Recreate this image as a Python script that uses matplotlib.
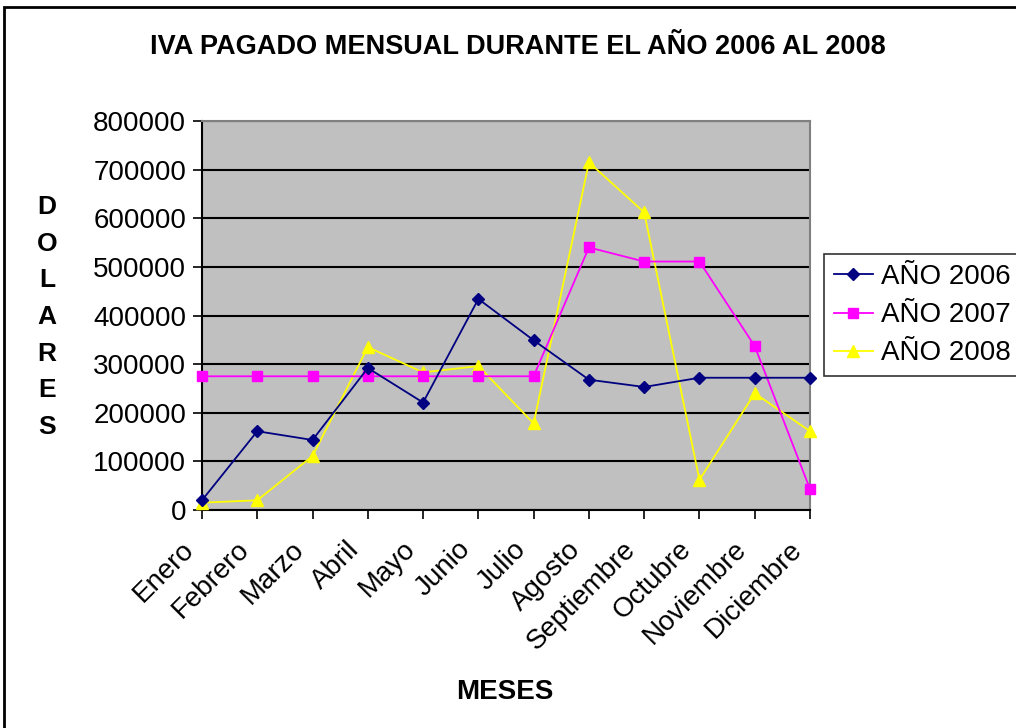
import numpy as np
import matplotlib.pyplot as plt
from matplotlib.patches import Rectangle
from matplotlib.transforms import ScaledTranslation

plt.rcParams['font.family'] = ['Liberation Sans', 'DejaVu Sans']

# datos
meses = ['Enero', 'Febrero', 'Marzo', 'Abril', 'Mayo', 'Junio', 'Julio',
         'Agosto', 'Septiembre', 'Octubre', 'Noviembre', 'Diciembre']
iva_2006 = [20000, 162000, 144000, 292000, 221000, 434000, 349000,
            268000, 253000, 272000, 272000, 272000]
iva_2007 = [275000, 275000, 275000, 275000, 275000, 275000, 275000,
            540000, 511000, 511000, 337000, 43000]
iva_2008 = [15000, 20000, 111000, 335000, 283000, 296000, 178000,
            715000, 612000, 62000, 240000, 162000]

fig = plt.figure(figsize=(10.16, 7.28), dpi=100)
W, H = 1016, 728

# marco exterior del grafico
fig.patches.append(Rectangle((4 / W, -0.02), 1.05, 1 - 7 / H + 0.02,
                             transform=fig.transFigure, fill=False,
                             edgecolor='black', linewidth=2))

ax = fig.add_axes([202 / W, 1 - 510 / H, (810 - 202) / W, (510 - 121) / H])
ax.set_facecolor('#C0C0C0')

x = np.arange(len(meses))
ax.plot(x, iva_2006, color='#000080', marker='D', markersize=6, linewidth=1.3,
        label='AÑO 2006', clip_on=False, zorder=5)
ax.plot(x, iva_2007, color='#FF00FF', marker='s', markersize=7, linewidth=1.3,
        label='AÑO 2007', clip_on=False, zorder=4)
ax.plot(x, iva_2008, color='#FFFF00', marker='^', markersize=8, linewidth=1.3,
        label='AÑO 2008', clip_on=False, zorder=3)

ax.set_xlim(0, 11)
ax.set_ylim(0, 800000)
ax.set_yticks(np.arange(0, 800001, 100000))
ax.set_yticklabels([str(v) for v in range(0, 800001, 100000)], fontsize=20)
ax.yaxis.grid(True, color='black', linewidth=1.5)
ax.set_axisbelow(True)

ax.set_xticks(x)
ax.set_xticklabels(meses, fontsize=20, rotation=45, ha='right', va='center',
                   rotation_mode='anchor')
ax.tick_params(axis='both', direction='out', length=6.5, width=1.2, color='black')
ax.tick_params(axis='y', pad=5)
ax.tick_params(axis='x', pad=19)
desplaza = ScaledTranslation(-0.12, 0, fig.dpi_scale_trans)
for lab in ax.get_xticklabels():
    lab.set_transform(lab.get_transform() + desplaza)

for s in ['left', 'bottom']:
    ax.spines[s].set_color('black')
    ax.spines[s].set_linewidth(1.5)
for s in ['top', 'right']:
    ax.spines[s].set_color('#808080')
    ax.spines[s].set_linewidth(1.5)

fig.text(518 / W, 1 - 47 / H, 'IVA PAGADO MENSUAL DURANTE EL AÑO 2006 AL 2008',
         ha='center', va='center', fontsize=19.5, fontweight='bold')
fig.text(505 / W, 1 - 692 / H, 'MESES', ha='center', va='center',
         fontsize=20, fontweight='bold')
fig.text(47 / W, 1 - 317 / H, '\n'.join('DOLARES'), ha='center', va='center',
         fontsize=19, fontweight='bold', linespacing=1.67)

leg = fig.legend(loc='upper left', bbox_to_anchor=(824 / W, 1 - 254 / H),
                 fontsize=20, frameon=True, fancybox=False, edgecolor='black',
                 handlelength=1.4, borderpad=0.36, labelspacing=0.44,
                 handletextpad=0.3, borderaxespad=0)
leg.get_frame().set_linewidth(1.2)

fig.savefig('out.png', dpi=100)
